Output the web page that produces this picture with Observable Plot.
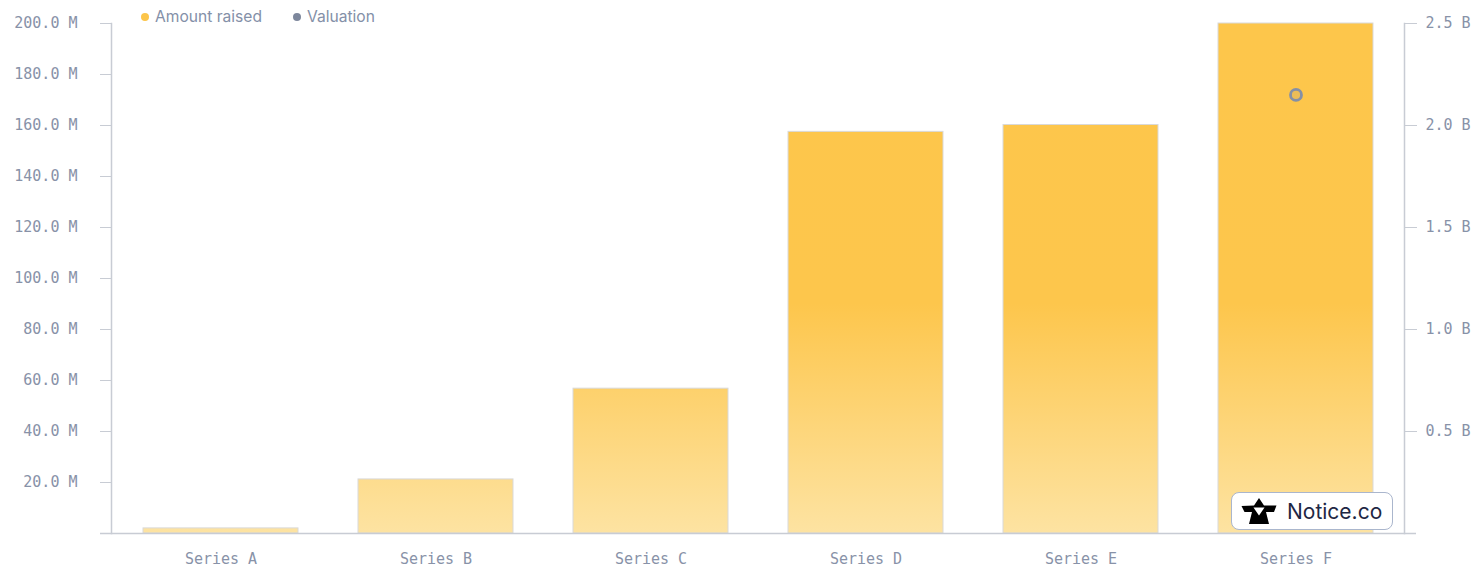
<!DOCTYPE html>
<html>
<head>
<meta charset="utf-8">
<script src="https://cdn.jsdelivr.net/npm/d3@7"></script>
<script src="https://cdn.jsdelivr.net/npm/@observablehq/plot@0.6"></script>
<style>
  html, body { margin: 0; padding: 0; background: #fff; }
  #wrap { position: relative; width: 1473px; height: 567px; }
  #legend { position: absolute; left: 141px; top: 7px; display: flex; gap: 31px;
    font-family: Inter, "Noto Sans", sans-serif; font-size: 15.6px; color: #8490a8; }
  #legend span.item { display: flex; align-items: center; gap: 6px; }
  #legend span.sw { width: 8px; height: 8px; border-radius: 50%; display: inline-block; }
  #badge { position: absolute; left: 1231px; top: 492px; width: 160px; height: 36px;
    border: 1.5px solid #aab6cd; border-radius: 8px; background: #fff;
    display: flex; align-items: center; font-family: Inter, "Noto Sans", sans-serif;
    font-size: 21px; color: #1e2744; }
  #badge svg { margin-left: 9px; margin-right: 10px; }
</style>
</head>
<body>
<div id="wrap">
  <div id="chart"></div>
  <div id="legend">
    <span class="item"><span class="sw" style="background:#fcc54a"></span>Amount raised</span>
    <span class="item"><span class="sw" style="background:#7d879c"></span>Valuation</span>
  </div>
  <div id="badge">
    <svg width="36" height="26" viewBox="0 0 36 26">
      <path d="M18 0 L23 7.5 L35.5 7.5 L33 14 L25 14 L28 26 L8 26 L11 14 L3.5 14 L0.5 8 L13 7.5 Z" fill="#000"/>
      <path d="M12.5 9.5 L23.5 9.5 L18 17.5 Z" fill="#fff"/>
    </svg>
    <span>Notice.co</span>
  </div>
</div>
<script>
const categories = ["Series A", "Series B", "Series C", "Series D", "Series E", "Series F"];
const amountRaisedM = [2.0, 21.2, 56.8, 157.5, 160.2, 200.0];
const valuationB = [null, null, null, null, null, 2.15];
const leftTicksM = [20, 40, 60, 80, 100, 120, 140, 160, 180, 200];
const rightTicksB = [0.5, 1.0, 1.5, 2.0, 2.5];
const leftMaxM = 200;
const rightMaxB = 2.5;

const k = leftMaxM / rightMaxB; // billions -> shared y units

const raised = categories.map((c, i) => ({cat: c, value: amountRaisedM[i]}));
const valuation = categories.map((c, i) => ({cat: c, value: valuationB[i]})).filter(d => d.value != null);

const tickColor = "#c8ccd4";
const textColor = "#8892a8";

const plot = Plot.plot({
  width: 1473,
  height: 567,
  marginLeft: 111,
  marginRight: 69,
  marginTop: 23,
  marginBottom: 34,
  style: {fontFamily: "'DejaVu Sans Mono', monospace", fontSize: "15px", color: textColor, background: "transparent"},
  x: {domain: categories, paddingInner: 0.28, paddingOuter: 0.14, label: null},
  y: {domain: [0, leftMaxM], label: null},
  marks: [
    Plot.barY(raised, {x: "cat", y: "value", fill: "url(#raisedGrad)", stroke: "#d9d9d9", strokeWidth: 1}),
    Plot.ruleY([0], {stroke: tickColor, strokeWidth: 1.5, insetLeft: -11, insetRight: -12}),
    Plot.frame({anchor: "left", stroke: tickColor, strokeWidth: 1.5}),
    Plot.frame({anchor: "right", stroke: tickColor, strokeWidth: 1.5}),
    Plot.axisY({anchor: "left", ticks: leftTicksM, tickFormat: d => d.toFixed(1) + " M",
      tickSize: 11, tickPadding: 23, stroke: tickColor, color: textColor, fill: textColor, label: null}),
    Plot.axisY({anchor: "right", ticks: rightTicksB.map(b => b * k), tickFormat: d => (d / k).toFixed(1) + " B",
      tickSize: 12, tickPadding: 9, stroke: tickColor, color: textColor, fill: textColor, label: null}),
    Plot.axisX({anchor: "bottom", tickSize: 0, tickPadding: 20, color: textColor, fill: textColor, label: null}),
    Plot.dot(valuation, {x: "cat", y: d => d.value * k, r: 5.5, stroke: "#8590a6", strokeWidth: 2.8,
      fill: "#8590a6", fillOpacity: 0.15})
  ]
});

const ys = plot.scale("y");
const ns = "http://www.w3.org/2000/svg";
const defs = document.createElementNS(ns, "defs");
const grad = document.createElementNS(ns, "linearGradient");
grad.setAttribute("id", "raisedGrad");
grad.setAttribute("gradientUnits", "userSpaceOnUse");
grad.setAttribute("x1", 0); grad.setAttribute("x2", 0);
grad.setAttribute("y1", ys.apply(leftMaxM));
grad.setAttribute("y2", ys.apply(0));
[[0, "#fdc64b"], [0.55, "#fdc64c"], [1, "#fde3a2"]].forEach(([o, c]) => {
  const s = document.createElementNS(ns, "stop");
  s.setAttribute("offset", o);
  s.setAttribute("stop-color", c);
  grad.appendChild(s);
});
defs.appendChild(grad);
plot.insertBefore(defs, plot.firstChild);

document.getElementById("chart").appendChild(plot);
</script>
</body>
</html>
